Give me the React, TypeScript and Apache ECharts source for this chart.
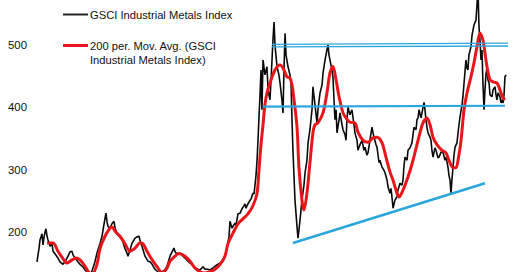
import React, { useEffect, useRef } from "react";
import * as echarts from "echarts";

// GSCI Industrial Metals Index: [decimal year, index level]
const gsciIndex: [number, number][] = [
  [1989.80, 152], [1989.95, 174], [1990.02, 187], [1990.17, 197], [1990.24, 179], [1990.31, 190],
  [1990.39, 200], [1990.46, 205], [1990.54, 193], [1990.61, 187], [1990.76, 177], [1990.90, 181],
  [1990.98, 169], [1991.12, 165], [1991.34, 158], [1991.49, 152], [1991.71, 148], [1991.86, 152],
  [1992.08, 161], [1992.23, 168], [1992.37, 169], [1992.45, 163], [1992.59, 158], [1992.81, 152],
  [1992.96, 148], [1993.18, 144], [1993.33, 139], [1993.55, 134], [1993.70, 132], [1993.84, 137],
  [1994.06, 152], [1994.21, 166], [1994.43, 181], [1994.58, 193], [1994.73, 213], [1994.87, 230],
  [1994.95, 216], [1995.02, 209], [1995.17, 206], [1995.31, 213], [1995.46, 217], [1995.54, 206],
  [1995.68, 198], [1995.90, 192], [1996.05, 189], [1996.27, 173], [1996.42, 166], [1996.49, 161],
  [1996.64, 171], [1996.79, 182], [1996.93, 187], [1997.01, 190], [1997.15, 192], [1997.30, 193],
  [1997.37, 187], [1997.52, 177], [1997.74, 161], [1997.96, 153], [1998.11, 152], [1998.26, 148],
  [1998.48, 140], [1998.70, 136], [1998.84, 132], [1999.06, 137], [1999.21, 139], [1999.36, 145],
  [1999.58, 161], [1999.73, 168], [1999.87, 174], [1999.95, 168], [2000.09, 165], [2000.31, 166],
  [2000.54, 161], [2000.68, 158], [2000.90, 153], [2001.05, 150], [2001.20, 148], [2001.42, 142],
  [2001.64, 140], [2001.79, 139], [2002.01, 144], [2002.15, 140], [2002.37, 140], [2002.52, 139],
  [2002.74, 142], [2002.89, 145], [2003.11, 148], [2003.26, 150], [2003.48, 153], [2003.62, 161],
  [2003.77, 173], [2003.92, 193], [2003.99, 217], [2004.14, 206], [2004.21, 209], [2004.36, 214],
  [2004.43, 211], [2004.58, 229], [2004.73, 230], [2004.87, 237], [2005.02, 242], [2005.09, 245],
  [2005.17, 238], [2005.24, 242], [2005.39, 248], [2005.54, 253], [2005.68, 262], [2005.76, 261],
  [2005.90, 290], [2005.98, 315], [2006.05, 347], [2006.12, 383], [2006.20, 420], [2006.27, 460],
  [2006.34, 396], [2006.42, 476], [2006.56, 452], [2006.71, 465], [2006.79, 428], [2006.93, 412],
  [2007.01, 444], [2007.08, 476], [2007.15, 508], [2007.23, 537], [2007.30, 500], [2007.45, 465],
  [2007.59, 452], [2007.67, 439], [2007.81, 412], [2007.89, 391], [2007.96, 460], [2008.04, 519],
  [2008.11, 484], [2008.26, 465], [2008.40, 452], [2008.48, 439], [2008.55, 380], [2008.62, 331],
  [2008.77, 251], [2008.92, 208], [2008.99, 190], [2009.06, 203], [2009.14, 219], [2009.28, 251],
  [2009.43, 275], [2009.51, 295], [2009.65, 315], [2009.73, 343], [2009.87, 364], [2010.02, 396],
  [2010.09, 433], [2010.24, 404], [2010.39, 375], [2010.46, 396], [2010.61, 423], [2010.76, 436],
  [2010.83, 455], [2010.98, 476], [2011.12, 492], [2011.20, 500], [2011.27, 484], [2011.34, 476],
  [2011.49, 460], [2011.56, 449], [2011.71, 380], [2011.79, 396], [2011.86, 359], [2012.01, 380],
  [2012.08, 391], [2012.23, 372], [2012.30, 364], [2012.45, 356], [2012.52, 347], [2012.59, 380],
  [2012.67, 400], [2012.81, 388], [2012.96, 396], [2013.11, 372], [2013.18, 359], [2013.33, 347],
  [2013.40, 331], [2013.55, 340], [2013.70, 347], [2013.84, 331], [2013.92, 336], [2014.06, 323],
  [2014.14, 327], [2014.28, 347], [2014.43, 368], [2014.51, 359], [2014.58, 352], [2014.73, 340],
  [2014.80, 336], [2014.95, 311], [2015.02, 315], [2015.17, 304], [2015.31, 299], [2015.39, 295],
  [2015.54, 283], [2015.61, 272], [2015.76, 262], [2015.83, 270], [2015.90, 256], [2015.98, 238],
  [2016.12, 251], [2016.27, 256], [2016.34, 267], [2016.49, 278], [2016.64, 275], [2016.71, 283],
  [2016.79, 307], [2016.86, 320], [2017.01, 315], [2017.08, 331], [2017.23, 335], [2017.37, 343],
  [2017.45, 356], [2017.52, 368], [2017.67, 364], [2017.74, 380], [2017.82, 383], [2017.89, 396],
  [2018.04, 383], [2018.11, 391], [2018.18, 399], [2018.26, 408], [2018.33, 396], [2018.40, 380],
  [2018.48, 367], [2018.55, 359], [2018.70, 352], [2018.77, 347], [2018.84, 331], [2018.92, 320],
  [2019.06, 335], [2019.14, 331], [2019.28, 319], [2019.36, 320], [2019.51, 328], [2019.65, 328],
  [2019.80, 315], [2019.87, 320], [2019.95, 312], [2020.02, 304], [2020.09, 291], [2020.17, 283],
  [2020.24, 262], [2020.31, 283], [2020.39, 304], [2020.46, 323], [2020.54, 336], [2020.68, 343],
  [2020.76, 359], [2020.83, 372], [2020.90, 384], [2021.05, 404], [2021.12, 417], [2021.20, 439],
  [2021.27, 457], [2021.34, 476], [2021.42, 463], [2021.49, 460], [2021.56, 484], [2021.71, 497],
  [2021.79, 516], [2021.86, 524], [2021.93, 532], [2022.08, 540], [2022.15, 564], [2022.23, 588],
  [2022.30, 529], [2022.37, 508], [2022.45, 476], [2022.52, 492], [2022.59, 439], [2022.67, 396],
  [2022.74, 428], [2022.81, 452], [2022.89, 465], [2022.96, 444], [2023.04, 439], [2023.11, 420],
  [2023.26, 417], [2023.33, 428], [2023.48, 433], [2023.55, 420], [2023.62, 412], [2023.70, 423],
  [2023.84, 417], [2023.92, 407], [2023.99, 412], [2024.07, 407], [2024.14, 420], [2024.21, 449],
  [2024.29, 452],
];

// 200 period moving average: [decimal year, level]
const movingAvg200: [number, number][] = [
  [1990.54, 182], [1990.98, 182], [1991.34, 169], [1991.71, 157], [1992.01, 150], [1992.37, 155],
  [1992.67, 158], [1992.96, 155], [1993.33, 145], [1993.55, 137], [1993.84, 131], [1994.21, 148],
  [1994.43, 173], [1994.80, 193], [1995.17, 206], [1995.31, 208], [1995.54, 201], [1995.90, 193],
  [1996.27, 181], [1996.64, 169], [1997.01, 174], [1997.37, 182], [1997.59, 181], [1997.96, 166],
  [1998.33, 153], [1998.70, 142], [1998.99, 134], [1999.36, 142], [1999.58, 153], [1999.95, 161],
  [2000.17, 165], [2000.31, 165], [2000.68, 161], [2001.05, 153], [2001.42, 142], [2001.79, 136],
  [2002.15, 134], [2002.52, 136], [2002.89, 140], [2003.26, 148], [2003.62, 161], [2003.84, 181],
  [2004.21, 198], [2004.58, 213], [2004.95, 221], [2005.31, 229], [2005.68, 242], [2005.98, 262],
  [2006.12, 299], [2006.27, 340], [2006.42, 372], [2006.56, 404], [2006.71, 423], [2006.93, 439],
  [2007.30, 460], [2007.67, 468], [2007.89, 463], [2008.18, 449], [2008.40, 447], [2008.55, 436],
  [2008.70, 412], [2008.92, 368], [2009.06, 304], [2009.28, 251], [2009.43, 235], [2009.65, 262],
  [2009.87, 311], [2010.09, 359], [2010.24, 372], [2010.46, 375], [2010.83, 391], [2011.12, 423],
  [2011.34, 455], [2011.56, 466], [2011.79, 444], [2012.01, 417], [2012.30, 391], [2012.52, 383],
  [2012.81, 376], [2013.18, 375], [2013.40, 360], [2013.77, 347], [2014.14, 344], [2014.51, 351],
  [2014.80, 352], [2015.17, 343], [2015.46, 320], [2015.76, 296], [2015.98, 283], [2016.27, 262],
  [2016.42, 256], [2016.71, 267], [2017.08, 288], [2017.45, 315], [2017.82, 347], [2018.18, 375],
  [2018.48, 383], [2018.70, 372], [2018.92, 352], [2019.21, 340], [2019.58, 331], [2019.87, 327],
  [2020.09, 315], [2020.39, 303], [2020.61, 303], [2020.76, 315], [2020.98, 347], [2021.20, 396],
  [2021.42, 423], [2021.71, 449], [2021.93, 471], [2022.15, 497], [2022.37, 519], [2022.59, 508],
  [2022.74, 487], [2022.89, 465], [2023.11, 444], [2023.33, 441], [2023.62, 439], [2023.84, 428],
  [2024.07, 415], [2024.21, 412],
];

// Trend lines drawn on the chart: [decimal year, level]
const resistanceUpper: [number, number][] = [[2007.08, 501], [2024.43, 503]];
const resistanceLower: [number, number][] = [[2007.08, 497], [2024.43, 498.5]];
const supportMid: [number, number][] = [[2006.42, 401], [2024.21, 402.5]];
const risingSupport: [number, number][] = [[2008.62, 182], [2022.74, 278]];

const yAxisMin = 100;
const yAxisMax = 600;
const yAxisStep = 100;
const xAxisMin = 1989.8;
const xAxisMax = 2024.58;

const legendIndex = "GSCI Industrial Metals Index";
const legendAvg = "200 per. Mov. Avg. (GSCI\nIndustrial Metals Index)";

const FONT = "'Liberation Sans', Arial, Helvetica, sans-serif";
const BLUE = "#2aa6df";
const RED = "#e8161b";

export default function App() {
  const ref = useRef<HTMLDivElement>(null);
  useEffect(() => {
    if (!ref.current) return;
    const chart = echarts.init(ref.current, undefined, { renderer: "svg" });
    const blueLine = (name: string, data: [number, number][], width: number) => ({
      name,
      type: "line",
      data,
      showSymbol: false,
      silent: true,
      z: 4,
      lineStyle: { color: BLUE, width },
    });
    chart.setOption({
      animation: false,
      backgroundColor: "#ffffff",
      grid: {
        left: 37,
        width: 473,
        top: -17.3,
        height: 311.5,
        containLabel: false,
        outerBoundsMode: "none",
      },
      xAxis: {
        type: "value",
        min: xAxisMin,
        max: xAxisMax,
        show: false,
      },
      yAxis: {
        type: "value",
        min: yAxisMin,
        max: yAxisMax,
        interval: yAxisStep,
        axisLine: { show: false },
        axisTick: { show: false },
        splitLine: { show: false },
        axisLabel: {
          margin: 10,
          color: "#111",
          fontSize: 11.4,
          fontFamily: FONT,
          showMinLabel: false,
          showMaxLabel: false,
        },
      },
      series: [
        {
          name: legendIndex,
          type: "line",
          data: gsciIndex,
          showSymbol: false,
          z: 2,
          lineStyle: { color: "#0a0a0a", width: 1.6 },
        },
        {
          name: "200 per. Mov. Avg. (GSCI Industrial Metals Index)",
          type: "line",
          data: movingAvg200,
          showSymbol: false,
          smooth: 0.3,
          z: 3,
          lineStyle: { color: RED, width: 3 },
        },
        blueLine("resistance upper", resistanceUpper, 1.4),
        blueLine("resistance lower", resistanceLower, 1.4),
        blueLine("support", supportMid, 2.2),
        blueLine("rising support", risingSupport, 2.6),
      ],
      graphic: [
        {
          type: "line",
          shape: { x1: 63, y1: 14.5, x2: 88, y2: 14.5 },
          style: { stroke: "#222", lineWidth: 2 },
        },
        {
          type: "text",
          x: 90,
          y: 14.5,
          style: {
            text: legendIndex,
            fill: "#111",
            font: `11.2px ${FONT}`,
            verticalAlign: "middle",
          },
        },
        {
          type: "line",
          shape: { x1: 63, y1: 45.5, x2: 88, y2: 45.5 },
          style: { stroke: RED, lineWidth: 3 },
        },
        {
          type: "text",
          x: 90,
          y: 39,
          style: {
            text: legendAvg,
            fill: "#111",
            font: `11.2px ${FONT}`,
            lineHeight: 14,
            verticalAlign: "top",
          },
        },
      ],
    });
    return () => chart.dispose();
  }, []);
  return (
    <div
      ref={ref}
      style={{ position: "fixed", left: 0, top: 0, width: 520, height: 272, background: "#fff" }}
    />
  );
}
